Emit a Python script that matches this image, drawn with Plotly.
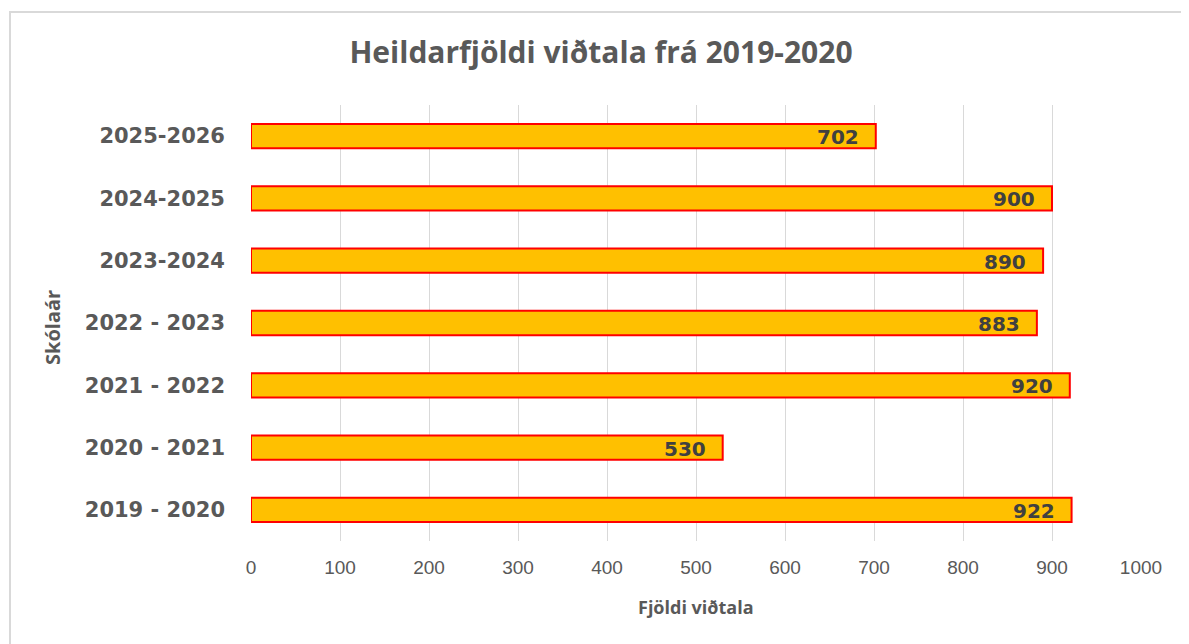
import plotly.graph_objects as go

categories = ["2019 - 2020", "2020 - 2021", "2021 - 2022", "2022 - 2023",
              "2023-2024", "2024-2025", "2025-2026"]
values = [922, 530, 920, 883, 890, 900, 702]
x_ticks = [0, 100, 200, 300, 400, 500, 600, 700, 800, 900, 1000]

# page has an 8px body margin; figure coords = page coords - 8
OFF = 8
W, H = 1189 - OFF, 644 - OFF
ml, mr, mt, mb = 251 - OFF, 48, 105 - OFF, 103
pw, ph = W - ml - mr, H - mt - mb

def px_x(px):
    return (px - OFF - ml) / pw

def px_y(py):
    return 1 - (py - OFF - mt) / ph

fig = go.Figure()
fig.add_trace(go.Bar(
    y=categories, x=values, orientation="h",
    width=0.39,
    marker=dict(color="#FFC000", line=dict(color="#FF0000", width=2)),
    hoverinfo="x+y",
))

annotations = []
for c, v in zip(categories, values):
    annotations.append(dict(
        x=v, y=c, xref="x", yref="y", text=str(v), showarrow=False,
        xanchor="right", yanchor="middle", xshift=-15, yshift=-1,
        font=dict(family="DejaVu Sans", size=20, color="#404040", weight="bold"),
    ))

annotations.append(dict(
    x=0.5, y=px_y(607), xref="paper", yref="paper", text="<b>Fjöldi viðtala</b>",
    showarrow=False, xanchor="center", yanchor="middle",
    font=dict(family="Open Sans", size=18, color="#595959"),
))
annotations.append(dict(
    x=px_x(52), y=px_y(328), xref="paper", yref="paper", text="<b>Skólaár</b>",
    showarrow=False, xanchor="center", yanchor="middle", textangle=-90,
    font=dict(family="Open Sans", size=20, color="#595959"),
))

fig.update_layout(
    width=W, height=H,
    margin=dict(l=ml, r=mr, t=mt, b=mb),
    paper_bgcolor="white", plot_bgcolor="white",
    title=dict(
        text="<b>Heildarfjöldi viðtala frá 2019-2020</b>",
        x=px_x(601), xref="paper", xanchor="center",
        y=1 - (52 - OFF) / H, yref="container", yanchor="middle",
        font=dict(family="Open Sans", size=30, color="#595959"),
    ),
    showlegend=False,
    annotations=annotations,
    shapes=[dict(
        type="rect", xref="paper", yref="paper",
        x0=px_x(10), x1=px_x(1200), y0=px_y(660), y1=px_y(12),
        line=dict(color="#D9D9D9", width=2), fillcolor="rgba(0,0,0,0)", layer="below",
    )],
    bargap=0.6,
)

fig.update_xaxes(
    range=[0, 1000], tickvals=x_ticks, ticktext=[str(t) for t in x_ticks],
    showgrid=True, gridcolor="#D9D9D9", gridwidth=1,
    zeroline=False, showline=False, ticks="",
    ticklabelstandoff=13,
    tickfont=dict(family="Liberation Sans", size=19, color="#595959"),
)
fig.update_yaxes(
    categoryorder="array", categoryarray=categories,
    showgrid=False, zeroline=False, showline=False, ticks="",
    ticklabelstandoff=25,
    tickfont=dict(family="DejaVu Sans", size=21, color="#595959", weight="bold"),
)

fig.write_html("out.html")
